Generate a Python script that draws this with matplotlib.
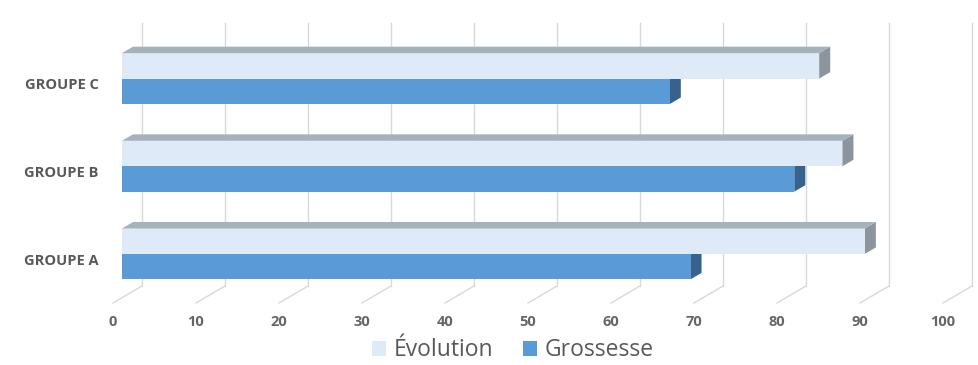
import numpy as np
import matplotlib
matplotlib.use('Agg')
import matplotlib.pyplot as plt
from matplotlib.patches import Polygon, Patch

plt.rcParams['font.family'] = ['Open Sans', 'DejaVu Sans']

#%% data
categories = ['GROUPE A', 'GROUPE B', 'GROUPE C']
evolution = [89.5, 86.8, 84]
grossesse = [68.5, 81, 66]
series_names = ['Évolution', 'Grossesse']
x_ticks = [0, 10, 20, 30, 40, 50, 60, 70, 80, 90, 100]

#%% style
col_evo = '#DEEAF7'
col_evo_top = '#A7B1BA'
col_evo_side = '#8C959E'
col_gro = '#5B9BD5'
col_gro_side = '#36628C'
grid_col = '#D9D9D9'
text_col = '#595959'

# fake 3d: depth offset of the back wall in data units
DX = 3.494
DY = 0.194
d0, d1 = 0.31, 0.69   # bar front / back depth fraction
h = 0.29              # bar thickness


def face_top(x0, y, w, dd):
    return [(x0, y), (x0 + w, y), (x0 + w + dd * DX, y + dd * DY), (x0 + dd * DX, y + dd * DY)]


def face_side(x, yb, yt, dd):
    return [(x, yb), (x, yt), (x + dd * DX, yt + dd * DY), (x + dd * DX, yb + dd * DY)]


fig = plt.figure(figsize=(9.79, 3.65), dpi=100)
ax = fig.add_axes([113 / 979, 1 - 303 / 365, 830 / 979, 263 / 365])
ax.set_xlim(0, 100)
ax.set_ylim(-0.5, 2.5)

# back wall gridlines + floor lines
for v in x_ticks:
    ax.plot([v, v + DX], [-0.5, -0.5 + DY], color=grid_col, lw=1, zorder=0.5, clip_on=False)
    ax.plot([v + DX, v + DX], [-0.5 + DY, 2.5 + DY], color=grid_col, lw=1, zorder=0.5, clip_on=False)

ypos = np.arange(len(categories))
x0 = d0 * DX
dd = d1 - d0

# Grossesse (lower bar)
yc_g = ypos + d0 * DY - h / 2
ax.barh(yc_g, grossesse, height=h, left=x0, color=col_gro, lw=0, zorder=3)
for yc, v in zip(yc_g, grossesse):
    ax.add_patch(Polygon(face_side(x0 + v, yc - h / 2, yc + h / 2, dd), closed=True,
                         facecolor=col_gro_side, lw=0, zorder=2))

# Evolution (upper bar)
yc_e = ypos + d0 * DY + h / 2
ax.barh(yc_e, evolution, height=h, left=x0, color=col_evo, lw=0, zorder=3)
for yc, v in zip(yc_e, evolution):
    ax.add_patch(Polygon(face_top(x0, yc + h / 2, v, dd), closed=True,
                         facecolor=col_evo_top, lw=0, zorder=3))
    ax.add_patch(Polygon(face_side(x0 + v, yc - h / 2, yc + h / 2, dd), closed=True,
                         facecolor=col_evo_side, lw=0, zorder=2))

for s in ax.spines.values():
    s.set_visible(False)
ax.set_xticks(x_ticks)
ax.set_xticklabels([str(t) for t in x_ticks], fontsize=10.5, fontweight='bold', color='#666666')
ax.set_yticks(ypos)
ax.set_yticklabels(categories, fontsize=10.5, fontweight='bold', color=text_col)
ax.tick_params(axis='x', length=0, pad=8.5)
ax.tick_params(axis='y', length=0, pad=10.5)
ax.set_facecolor('none')

handles = [Patch(facecolor=col_evo, lw=0), Patch(facecolor=col_gro, lw=0)]
fig.legend(handles, series_names, loc='center', bbox_to_anchor=(0.524, 0.04), ncol=2,
           frameon=False, fontsize=16.5, labelcolor=text_col, borderpad=0.1,
           handlelength=0.6, handleheight=0.6, handletextpad=0.35, columnspacing=1.3)

fig.savefig('out.png', dpi=100)
